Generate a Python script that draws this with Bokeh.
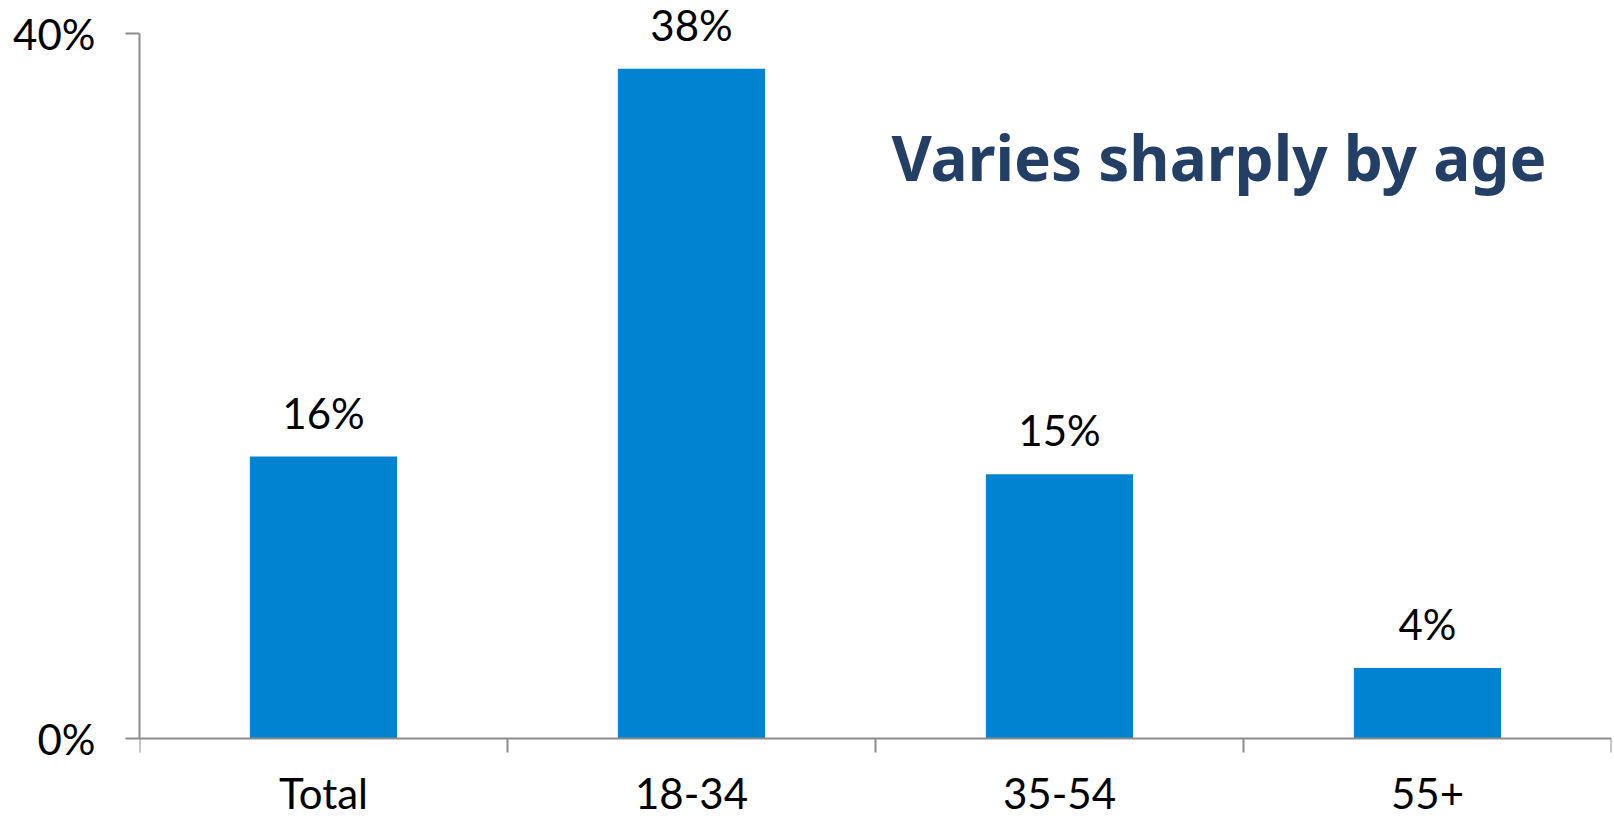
from bokeh.plotting import figure
from bokeh.models import (Range1d, LinearAxis, FixedTicker, ColumnDataSource,
                          PrintfTickFormatter, Label)
from bokeh.core.properties import value
from bokeh.embed import file_html
from bokeh.resources import INLINE

categories = ["Total", "18-34", "35-54", "55+"]
values = [16, 38, 15, 4]
label_texts = ["16%", "38%", "15%", "4%"]
y_ticks = [0, 40]
title_text = "Varies sharply by age"

FONT = "Lato"
BAR = "#0283D1"
AXIS = "#8C8C8C"

n = len(categories)
centers = [i + 0.5 for i in range(n)]
bounds = list(range(n + 1))

# frame covers the full canvas height; 40% at 33 px, 0% at 738 px
H = 819
px_per_unit = (738 - 33) / 40
y_top = 40 + 33 / px_per_unit
y_bot = -(H - 738) / px_per_unit

src = ColumnDataSource(dict(x=centers, top=values, lab=label_texts))

p = figure(width=1614, height=H, output_backend="svg", toolbar_location=None,
           x_range=Range1d(0, n), y_range=Range1d(y_bot, y_top),
           x_axis_location=None, y_axis_location=None,
           min_border_left=139, min_border_right=3, min_border_top=0,
           min_border_bottom=0, outline_line_color=None)
p.grid.visible = False
p.background_fill_color = "white"
p.border_fill_color = "white"

p.vbar(x="x", top="top", width=0.4, bottom=0, source=src,
       fill_color=BAR, line_color=None)
p.text(x="x", y="top", text="lab", source=src, text_align="center",
       text_baseline="bottom", y_offset=-19, text_font=value(FONT),
       text_font_size="42px", text_color="black")

# y axis
yax = LinearAxis(ticker=FixedTicker(ticks=y_ticks),
                 formatter=PrintfTickFormatter(format="%d%%"),
                 bounds=(0, 40))
yax.axis_line_color = AXIS
yax.axis_line_width = 2
yax.major_tick_line_color = AXIS
yax.major_tick_line_width = 2
yax.major_tick_out = 14
yax.major_tick_in = 0
yax.minor_tick_line_color = None
yax.major_label_standoff = 30
yax.major_label_text_font = FONT
yax.major_label_text_font_size = "42px"
yax.major_label_text_color = "black"
p.add_layout(yax, "left")

# x axis at y = 0: labels at category centres, ticks at category boundaries
xax = LinearAxis(ticker=FixedTicker(ticks=centers, minor_ticks=bounds),
                 major_label_overrides={c: t for c, t in zip(centers, categories)},
                 fixed_location=0)
xax.axis_line_color = AXIS
xax.axis_line_width = 2
xax.major_tick_line_color = None
xax.major_tick_out = 0
xax.major_tick_in = 0
xax.minor_tick_line_color = AXIS
xax.minor_tick_line_width = 2
xax.minor_tick_out = 14
xax.minor_tick_in = 0
xax.major_label_standoff = 15
xax.major_label_text_font = FONT
xax.major_label_text_font_size = "42px"
xax.major_label_text_color = "black"
p.add_layout(xax, "below")

p.add_layout(Label(x=752, y=663, x_units="screen", y_units="screen",
                   text=title_text, text_font="Noto Sans", text_font_style="bold",
                   text_font_size="62px", text_color="#243F66",
                   text_baseline="alphabetic"))

open("out.html", "w").write(file_html(p, INLINE))
